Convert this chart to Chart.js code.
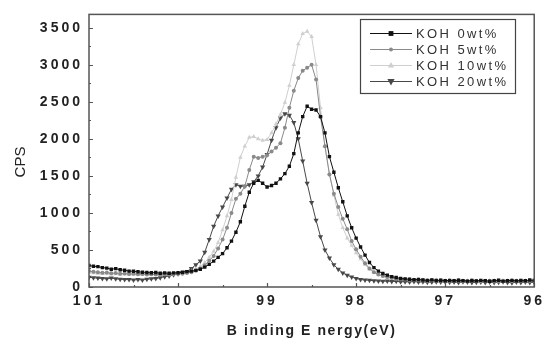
<!DOCTYPE html>
<html>
<head>
<meta charset="utf-8">
<script src="https://cdn.jsdelivr.net/npm/chart.js"></script>
<style>
	html, body { margin: 0; padding: 0; background: #fff; }
	canvas { display: block; }
</style>
</head>
<body>
<canvas id="xpsChart" width="551" height="342"></canvas>
<script>
// binding energy grid, 101 -> 96 eV in 0.05 eV steps
const energyStart = 101;
const energyStep = 0.05;

const koh0 = [
	290, 280, 275, 262, 255, 240, 248, 232, 226, 215, 212, 205, 200, 196, 192, 196, 186, 190, 185, 190, 192,
	200, 208, 215, 225, 240, 268, 305, 350, 400, 450, 530, 620, 740, 880, 1090, 1280, 1400, 1440, 1400, 1350,
	1370, 1400, 1460, 1530, 1630, 1800, 2080, 2300, 2440, 2400, 2390, 2300, 2080, 1760, 1550, 1340, 1150, 960, 800, 660,
	540, 430, 330, 262, 215, 182, 160, 140, 128, 115, 110, 104, 98, 102, 94, 90, 96, 88, 92, 85,
	90, 84, 92, 86, 80, 88, 82, 90, 84, 78, 86, 92, 80, 85, 90, 82, 88, 84, 95, 88
];
const koh5 = [
	215, 205, 200, 192, 195, 185, 188, 180, 182, 176, 178, 172, 175, 170, 172, 168, 170, 172, 168, 172, 175,
	180, 190, 200, 220, 250, 295, 355, 420, 520, 640, 800, 1000, 1190, 1260, 1360, 1580, 1760, 1740, 1760, 1780,
	1830, 1880, 1940, 2150, 2420, 2650, 2820, 2920, 2960, 3000, 2800, 2300, 1900, 1520, 1260, 1080, 920, 780, 620, 510,
	410, 320, 250, 200, 170, 150, 134, 122, 112, 105, 100, 96, 92, 98, 90, 86, 92, 84, 88, 82,
	86, 80, 88, 82, 78, 85, 80, 76, 84, 80, 74, 82, 78, 84, 76, 80, 86, 78, 82, 76
];
const koh10 = [
	195, 188, 182, 178, 180, 174, 176, 170, 172, 168, 170, 166, 168, 165, 170, 166, 168, 170, 172, 175, 178,
	188, 200, 218, 240, 278, 330, 400, 480, 600, 770, 960, 1180, 1480, 1750, 1900, 2020, 2030, 2000, 1980, 1990,
	2080, 2200, 2330, 2490, 2720, 3000, 3280, 3420, 3450, 3380, 3000, 2420, 1900, 1530, 1240, 980, 800, 660, 560, 460,
	380, 300, 240, 195, 165, 145, 130, 118, 110, 104, 98, 102, 94, 96, 90, 94, 88, 92, 86, 90,
	84, 88, 92, 86, 82, 90, 84, 88, 80, 86, 90, 82, 88, 84, 92, 86, 80, 88, 84, 90
];
const koh20 = [
	130, 125, 120, 115, 110, 120, 110, 105, 100, 100, 95, 100, 95, 105, 110, 115, 125, 140, 150, 165, 180,
	195, 210, 250, 300, 350, 470, 640, 820, 960, 1080, 1200, 1320, 1380, 1360, 1360, 1380, 1420, 1500, 1620, 1790,
	1980, 2150, 2280, 2340, 2320, 2220, 2000, 1700, 1400, 1140, 900, 680, 500, 390, 300, 240, 190, 160, 135, 115,
	100, 95, 90, 85, 82, 78, 80, 74, 76, 70, 72, 68, 74, 66, 70, 64, 68, 72, 66, 70,
	64, 68, 62, 70, 66, 60, 64, 68, 62, 66, 60, 64, 70, 62, 58, 66, 62, 68, 60, 64
];

const seriesLabels = ['KOH 0wt%', 'KOH 5wt%', 'KOH 10wt%', 'KOH 20wt%'];
const xTickLabels = [101, 100, 99, 98, 97, 96];
const yTickLabels = [0, 500, 1000, 1500, 2000, 2500, 3000, 3500];
const xTitle = 'B inding E nergy(eV)';
const yTitle = 'CPS';

const energies = koh0.map((_, i) => +(energyStart - i * energyStep).toFixed(2));
const toPoints = (vals) => vals.map((v, i) => ({ x: energies[i], y: v }));

const styles = [
	{ color: '#111111', pointStyle: 'rect', radius: 2.4, rotation: 0 },
	{ color: '#8a8a8a', pointStyle: 'circle', radius: 2, rotation: 0 },
	{ color: '#cfcfcf', pointStyle: 'triangle', radius: 2.6, rotation: 0 },
	{ color: '#484848', pointStyle: 'triangle', radius: 3, rotation: 180 }
];
const seriesValues = [koh0, koh5, koh10, koh20];

const tickFont = { family: 'Arial, "Liberation Sans", sans-serif', size: 14, weight: 'bold' };

function drawMarker(ctx, st, x, y) {
	ctx.save();
	ctx.fillStyle = st.color;
	ctx.translate(x, y);
	ctx.rotate(st.rotation * Math.PI / 180);
	const r = st.radius;
	ctx.beginPath();
	if (st.pointStyle === 'rect') {
		ctx.rect(-r, -r, 2 * r, 2 * r);
	} else if (st.pointStyle === 'circle') {
		ctx.arc(0, 0, r, 0, Math.PI * 2);
	} else {
		ctx.moveTo(0, -r * 1.3);
		ctx.lineTo(r * 1.2, r * 0.8);
		ctx.lineTo(-r * 1.2, r * 0.8);
		ctx.closePath();
	}
	ctx.fill();
	ctx.restore();
}

const framePlugin = {
	id: 'frame',
	beforeLayout(chart) { chart.ctx.letterSpacing = '3px'; },
	beforeDraw(chart) { chart.ctx.letterSpacing = '3px'; },
	afterDraw(chart) {
		const ctx = chart.ctx;
		const a = chart.chartArea;
		const xs = chart.scales.x;
		const ys = chart.scales.y;
		ctx.save();
		ctx.letterSpacing = '0px';
		ctx.strokeStyle = '#555';
		ctx.lineWidth = 1.5;
		ctx.strokeRect(a.left, a.top, a.right - a.left, a.bottom - a.top);

		// inward ticks
		ctx.lineWidth = 1.2;
		ctx.beginPath();
		for (let v = 0; v <= 3500; v += 250) {
			const y = Math.round(ys.getPixelForValue(v)) + 0.5;
			const len = v % 500 === 0 ? 4 : 2;
			ctx.moveTo(a.left, y);
			ctx.lineTo(a.left + len, y);
		}
		for (let e = 96; e <= 101; e += 0.5) {
			const x = Math.round(xs.getPixelForValue(e)) + 0.5;
			const len = Number.isInteger(e) ? 4 : 2;
			ctx.moveTo(x, a.bottom);
			ctx.lineTo(x, a.bottom - len);
		}
		ctx.stroke();

		// legend
		const bx = 360, by = 19, bw = 155, bh = 74;
		ctx.fillStyle = '#fff';
		ctx.fillRect(bx, by, bw, bh);
		ctx.strokeStyle = '#444';
		ctx.lineWidth = 1.2;
		ctx.strokeRect(bx + 0.5, by + 0.5, bw, bh);
		const rowsY = [33, 49, 65, 81];
		ctx.font = '13px Arial, "Liberation Sans", sans-serif';
		ctx.textBaseline = 'middle';
		ctx.textAlign = 'left';
		seriesLabels.forEach((label, i) => {
			const st = styles[i];
			const y = rowsY[i];
			ctx.strokeStyle = st.color;
			ctx.lineWidth = 1;
			ctx.beginPath();
			ctx.moveTo(370, y + 0.5);
			ctx.lineTo(412, y + 0.5);
			ctx.stroke();
			drawMarker(ctx, st, 391, y + 0.5);
			ctx.letterSpacing = '2.4px';
			ctx.fillStyle = '#333';
			ctx.fillText(label, 416, y + 1);
		});

		// axis titles
		ctx.fillStyle = '#222';
		ctx.letterSpacing = '1.6px';
		ctx.font = 'bold 14px Arial, "Liberation Sans", sans-serif';
		ctx.textAlign = 'center';
		ctx.fillText(xTitle, (a.left + a.right) / 2, 331);
		ctx.letterSpacing = '0px';
		ctx.font = '15px Arial, "Liberation Sans", sans-serif';
		ctx.translate(21, 162);
		ctx.rotate(-Math.PI / 2);
		ctx.fillText(yTitle, 0, 0);
		ctx.restore();
	}
};

new Chart(document.getElementById('xpsChart').getContext('2d'), {
	type: 'line',
	data: {
		datasets: seriesValues.map((vals, i) => ({
			label: seriesLabels[i],
			data: toPoints(vals),
			borderColor: styles[i].color,
			backgroundColor: styles[i].color,
			borderWidth: 1,
			pointStyle: styles[i].pointStyle,
			pointRotation: styles[i].rotation,
			pointRadius: styles[i].radius,
			pointBorderWidth: 0,
			tension: 0
		}))
	},
	options: {
		responsive: false,
		animation: false,
		devicePixelRatio: 1,
		layout: { padding: { left: 0, right: 14, top: 7, bottom: 0 } },
		plugins: {
			legend: { display: false },
			tooltip: { enabled: false }
		},
		scales: {
			x: {
				type: 'linear',
				reverse: true,
				min: 96,
				max: 101,
				grid: { display: false, drawTicks: false },
				border: { display: false },
				ticks: {
					autoSkip: false,
					padding: 6,
					color: '#222',
					font: tickFont
				},
				afterBuildTicks: (scale) => { scale.ticks = xTickLabels.map((v) => ({ value: v })); },
				afterFit: (scale) => { scale.height = 55; }
			},
			y: {
				min: 0,
				max: 3680,
				grid: { display: false, drawTicks: false },
				border: { display: false },
				ticks: {
					autoSkip: false,
					padding: 6,
					color: '#222',
					font: tickFont,
					callback: (v) => String(v)
				},
				afterBuildTicks: (scale) => { scale.ticks = yTickLabels.map((v) => ({ value: v })); },
				afterFit: (scale) => { scale.width = 89; }
			}
		}
	},
	plugins: [framePlugin]
});
</script>
</body>
</html>
